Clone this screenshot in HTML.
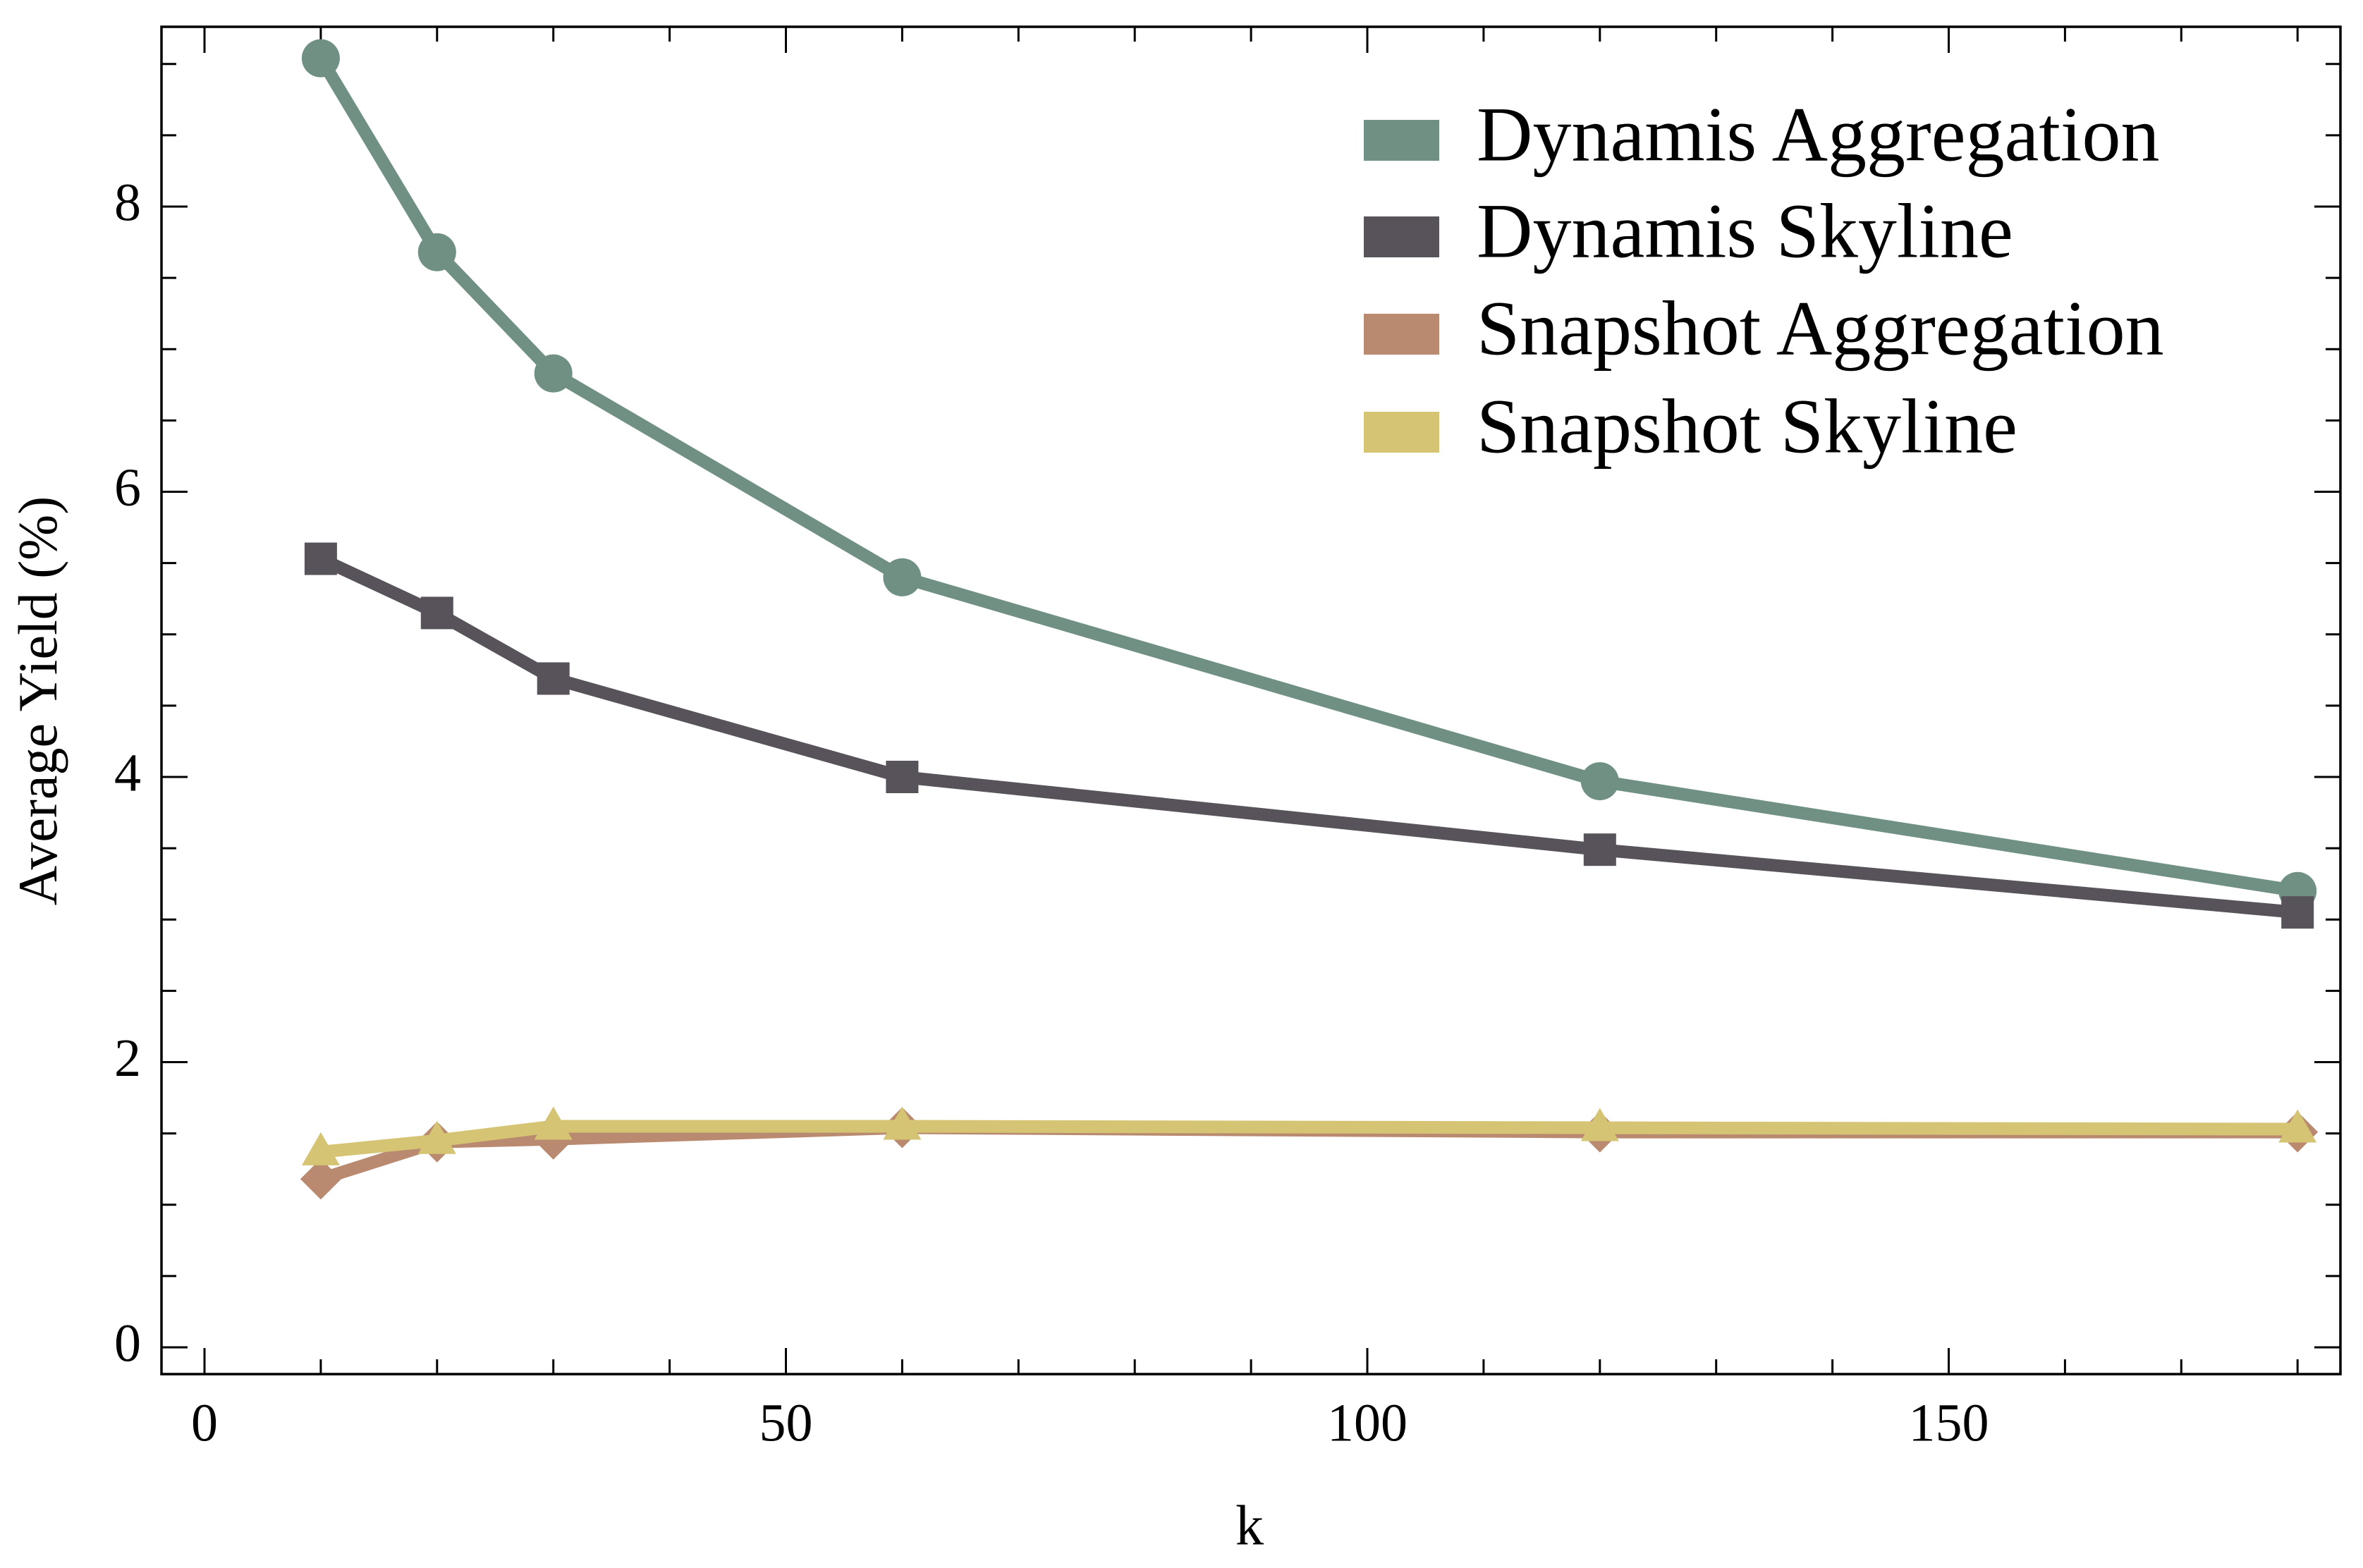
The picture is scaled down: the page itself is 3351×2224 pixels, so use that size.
<!DOCTYPE html>
<html><head><meta charset="utf-8"><style>
html,body{margin:0;padding:0;background:#fff;}
svg{display:block;font-family:"Liberation Serif",serif;}
</style></head><body>
<svg id="chart" width="3351" height="2224" viewBox="0 0 3351 2224" xmlns="http://www.w3.org/2000/svg">
<g id="frame-layer"></g>
<g id="series-layer"></g>
<g id="legend"></g>
<text x="62" y="994" font-size="78" text-anchor="middle" dominant-baseline="middle" transform="rotate(-90 62 994)">Average Yield (%)</text>
<text x="1772" y="2172" font-size="80" text-anchor="middle" dominant-baseline="middle">k</text>
</svg>
<script>
const kValues = [10, 20, 30, 60, 120, 180];
const dynAgg = [9.04, 7.68, 6.83, 5.40, 3.97, 3.20];
const dynSky = [5.53, 5.15, 4.69, 4.00, 3.49, 3.05];
const snapAgg = [1.18, 1.44, 1.46, 1.54, 1.51, 1.51];
const snapSky = [1.37, 1.45, 1.55, 1.55, 1.54, 1.53];
const seriesNames = ["Dynamis Aggregation", "Dynamis Skyline", "Snapshot Aggregation", "Snapshot Skyline"];
const xTickLabels = [0, 50, 100, 150];
const yTickLabels = [0, 2, 4, 6, 8];

const NS = "http://www.w3.org/2000/svg";
const L = 229, R = 3319, T = 38, B = 1949;
const X0 = 290, XU = 16.49, Y0 = 1911, YU = 202.25;
function sx(v){ return X0 + v * XU; }
function sy(v){ return Y0 - v * YU; }
function mk(tag, attrs, parent){
  const e = document.createElementNS(NS, tag);
  for (const k in attrs) e.setAttribute(k, attrs[k]);
  parent.appendChild(e);
  return e;
}
const frame = document.getElementById("frame-layer");
const f = mk("rect", {x:L, y:T, width:R-L, height:B-T, fill:"none", stroke:"#000", "stroke-width":3.5}, frame);



for (let v = 0; v <= 180; v += 10) {
  const major = v % 50 === 0;
  const len = major ? 37 : 21;
  const x = sx(v);
  const t1 = mk("line", {x1:x, y1:B, x2:x, y2:B-len, stroke:"#000", "stroke-width":3}, frame);
  
  
  const t2 = mk("line", {x1:x, y1:T, x2:x, y2:T+len, stroke:"#000", "stroke-width":3}, frame);
  
  
}
xTickLabels.forEach(v => {
  const t = mk("text", {x:sx(v), y:2026, "font-size":76, "text-anchor":"middle", "dominant-baseline":"middle"}, frame);
  t.textContent = v;
  
  
});
for (let i = 0; i <= 18; i++) {
  const v = i * 0.5;
  const y = sy(v);
  if (y < T) continue;
  const major = (i % 4 === 0);
  const len = major ? 37 : 21;
  const t1 = mk("line", {x1:L, y1:y, x2:L+len, y2:y, stroke:"#000", "stroke-width":3}, frame);
  
  
  const t2 = mk("line", {x1:R, y1:y, x2:R-len, y2:y, stroke:"#000", "stroke-width":3}, frame);
  
  
}
yTickLabels.forEach(v => {
  const t = mk("text", {x:200, y:sy(v)+2, "font-size":76, "text-anchor":"end", "dominant-baseline":"middle"}, frame);
  t.textContent = v;
  
  
});

const colors = ["#6f9083", "#58535b", "#b98a70", "#d5c473"];
const data = [dynAgg, dynSky, snapAgg, snapSky];
const shapes = ["circle", "square", "diamond", "triangle"];
const layer = document.getElementById("series-layer");
function marker(shape, x, y, c, g){
  let m;
  if (shape === "circle") m = mk("circle", {cx:x, cy:y, r:27, fill:c}, g);
  else if (shape === "square") m = mk("rect", {x:x-23, y:y-23, width:46, height:46, fill:c}, g);
  else if (shape === "diamond") m = mk("polygon", {points:`${x},${y-29} ${x+29},${y} ${x},${y+29} ${x-29},${y}`, fill:c}, g);
  else m = mk("polygon", {points:`${x},${y-28} ${x+27},${y+19} ${x-27},${y+19}`, fill:c}, g);
  return m;
}
data.forEach((vals, si) => {
  const g = mk("g", {}, layer);
  
  
  const pts = vals.map((v, i) => sx(kValues[i]) + "," + sy(v)).join(" ");
  const pl = mk("polyline", {points:pts, fill:"none", stroke:colors[si], "stroke-width":18, "stroke-linejoin":"round"}, g);
  
  
  vals.forEach((v, i) => {
    const m = marker(shapes[si], sx(kValues[i]), sy(v), colors[si], g);
    
    
  });
});

const legend = document.getElementById("legend");
const legY = [199, 336, 474, 613];
seriesNames.forEach((n, i) => {
  const g = mk("g", {}, legend);
  
  
  const r = mk("rect", {x:1934, y:legY[i]-29, width:107, height:58, fill:colors[i]}, g);
  
  
  const t = mk("text", {x:2094, y:legY[i]+3, "font-size":110, "dominant-baseline":"middle"}, g);
  t.textContent = n;
  
  
});
</script>
</body></html>
